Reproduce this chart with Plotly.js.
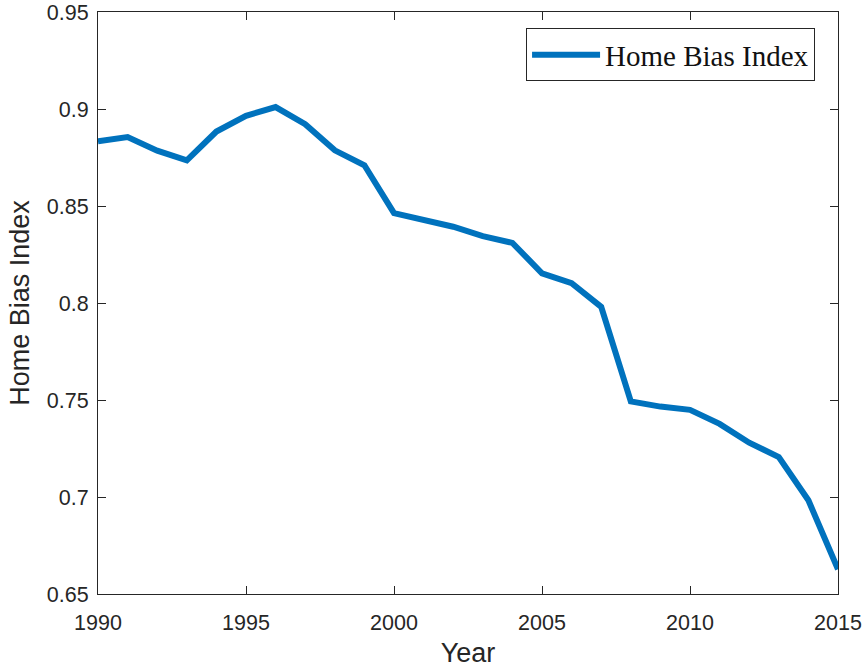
<!DOCTYPE html>
<html>
<head>
<meta charset="utf-8">
<script src="https://cdn.plot.ly/plotly-3.0.1.min.js"></script>
<style>html,body{margin:0;padding:0;background:#fff;}#chart{width:865px;height:668px;}</style>
</head>
<body>
<div id="chart"></div>
<script>
var years = [1990,1991,1992,1993,1994,1995,1996,1997,1998,1999,2000,2001,2002,2003,2004,2005,2006,2007,2008,2009,2010,2011,2012,2013,2014,2015];
var homeBias = [0.8833,0.8855,0.8785,0.8735,0.8884,0.8965,0.9010,0.8922,0.8787,0.8710,0.8463,0.8430,0.8393,0.8345,0.8310,0.8153,0.8102,0.7980,0.7493,0.7466,0.7449,0.7377,0.7280,0.7206,0.6983,0.6627];
var seriesName = 'Home Bias Index';
var xTitle = 'Year';
var yTitle = 'Home Bias Index';

var sans = 'Liberation Sans, Arial, Helvetica, sans-serif';
var trace = {
  x: years, y: homeBias, type: 'scatter', mode: 'lines', name: seriesName,
  line: {color: '#0072BD', width: 6}
};
var axisCommon = {
  showgrid: false, zeroline: false, showline: true, mirror: 'ticks',
  linecolor: '#262626', linewidth: 1, ticks: 'inside', ticklen: 8, tickcolor: '#262626',
  ticklabeloverflow: 'allow',
  tickfont: {family: sans, size: 21.5, color: '#262626'}
};
var layout = {
  width: 865, height: 668,
  margin: {l: 98, r: 27, t: 12, b: 74},
  paper_bgcolor: '#fff', plot_bgcolor: '#fff',
  showlegend: true,
  xaxis: Object.assign({}, axisCommon, {
    range: [1990, 2015], tick0: 1990, dtick: 5, ticklabelstandoff: 9,
    title: {text: xTitle, font: {family: sans, size: 27, color: '#262626'}, standoff: 14}
  }),
  yaxis: Object.assign({}, axisCommon, {
    range: [0.65, 0.95], tick0: 0.65, dtick: 0.05, ticklabelstandoff: 4,
    title: {text: yTitle, font: {family: sans, size: 27, color: '#262626'}, standoff: 9}
  }),
  legend: {
    x: 0.969, y: 0.972, xanchor: 'right', yanchor: 'top', itemwidth: 68,
    bgcolor: '#fff', bordercolor: '#262626', borderwidth: 1,
    font: {family: 'Liberation Serif, DejaVu Serif, serif', size: 29, color: '#111'}
  }
};
Plotly.newPlot('chart', [trace], layout, {displayModeBar: false, staticPlot: true});
</script>
</body>
</html>
